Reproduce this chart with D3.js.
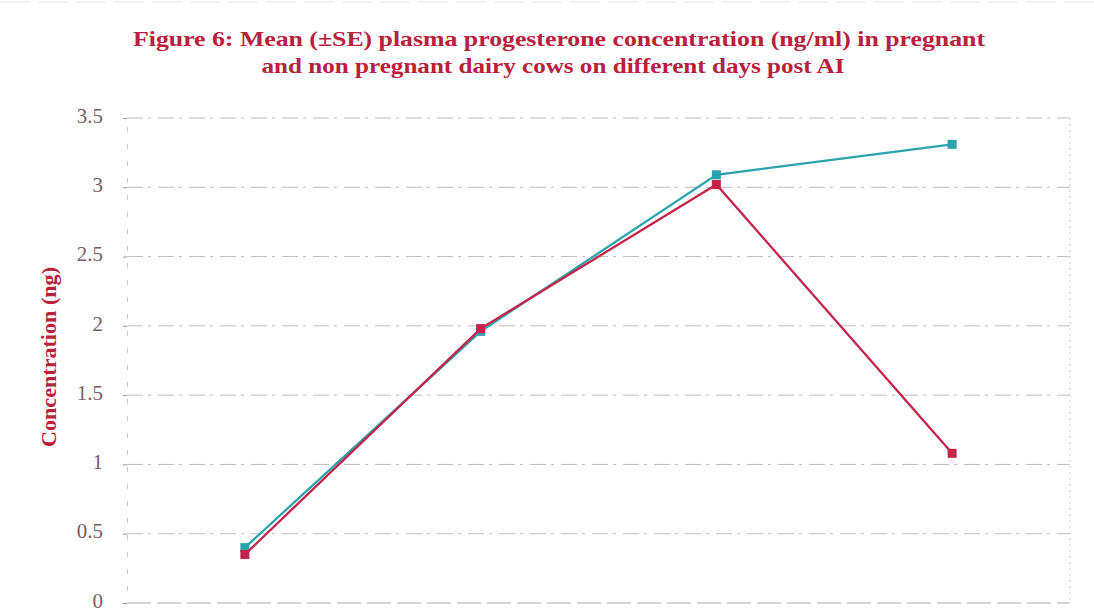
<!DOCTYPE html>
<html>
<head>
<meta charset="utf-8">
<script src="https://cdn.jsdelivr.net/npm/d3@7"></script>
<style>
  body { margin: 0; background: #fff; }
  svg { display: block; }
</style>
</head>
<body>
<svg id="chart" width="1094" height="613"></svg>
<script>
// + -- data ------------------------------------------------------------------ +
const days = ['D1', 'D2', 'D3', 'D4']
const pregnant = [0.40, 1.96, 3.09, 3.31]
const nonPregnant = [0.35, 1.98, 3.02, 1.08]
const yTicks = [0, 0.5, 1, 1.5, 2, 2.5, 3, 3.5]

const titleLines = [
  'Figure 6: Mean (\u00b1SE) plasma progesterone concentration (ng/ml) in pregnant',
  'and non pregnant dairy cows on different days post AI'
]
const titleWidths = [852, 583]

const RED = '#c4234a'
const TEAL = '#2ba3ad'

const svg = d3.select('#chart')
const plotL = 127, plotR = 1070, plotT = 118, plotB = 603

const x = d3.scalePoint().domain(days).range([plotL, plotR]).padding(0.5)
const y = d3.scaleLinear().domain([0, 3.5]).range([plotB, plotT])

// top rule of the scanned page
svg.append('line')
  .attr('x1', 0).attr('x2', 1094)
  .attr('y1', 2).attr('y2', 2)
  .attr('stroke', '#e4e4e4')
  .attr('stroke-dasharray', '30,8')

// title
svg.selectAll('text.title')
  .data(titleLines)
  .enter().append('text')
  .attr('class', 'title')
  .attr('x', (d, i) => i == 0 ? 559 : 553)
  .attr('y', (d, i) => 46 + i * 27)
  .attr('text-anchor', 'middle')
  .attr('font-family', 'Liberation Serif, serif')
  .attr('font-weight', 700)
  .attr('font-size', 22)
  .attr('fill', '#b8203c')
  .attr('textLength', (d, i) => titleWidths[i])
  .attr('lengthAdjust', 'spacingAndGlyphs')
  .text(d => d)

// gridlines
svg.append('g')
  .selectAll('line')
  .data(yTicks.filter(d => d > 0))
  .enter().append('line')
  .attr('x1', plotL).attr('x2', plotR)
  .attr('y1', d => y(d)).attr('y2', d => y(d))
  .attr('stroke', '#bdbdbd')
  .attr('stroke-width', 1)
  .attr('stroke-dasharray', '16,5,3,7')

// bottom line
svg.append('line')
  .attr('x1', plotL).attr('x2', plotR)
  .attr('y1', y(0)).attr('y2', y(0))
  .attr('stroke', '#aaa')
  .attr('stroke-dasharray', '24,6')

// y axis
let yAxis = svg.append('g')
  .attr('transform', 'translate(' + plotL + ',0)')
  .call(d3.axisLeft(y).tickValues(yTicks).tickSize(4).tickPadding(20).tickFormat(d3.format('')))
yAxis.select('.domain').attr('stroke', '#c8c8c8').attr('stroke-dasharray', '5,12')
yAxis.selectAll('.tick line').attr('stroke', '#999')
yAxis.selectAll('.tick text')
  .attr('font-family', 'Liberation Serif, serif')
  .attr('font-size', 21)
  .attr('dy', '0.2em')
  .attr('fill', '#7d5a62')

// right edge
svg.append('line')
  .attr('x1', plotR).attr('x2', plotR)
  .attr('y1', plotT).attr('y2', plotB)
  .attr('stroke', '#ccc')
  .attr('stroke-dasharray', '2,4')

// y label
svg.append('text')
  .attr('transform', 'translate(56,357) rotate(-90)')
  .attr('text-anchor', 'middle')
  .attr('font-family', 'Liberation Serif, serif')
  .attr('font-weight', 700)
  .attr('font-size', 22)
  .attr('fill', '#b8203c')
  .attr('textLength', 180)
  .attr('lengthAdjust', 'spacingAndGlyphs')
  .text('Concentration (ng)')

// series
const series = [
  {name: 'Pregnant', values: pregnant, color: TEAL},
  {name: 'Non pregnant', values: nonPregnant, color: RED}
]
const line = d3.line()
  .x((d, i) => x(days[i]))
  .y(d => y(d))

series.forEach(s => {
  let g = svg.append('g').attr('class', 'series')
  g.append('path')
    .datum(s.values)
    .attr('d', line)
    .attr('fill', 'none')
    .attr('stroke', s.color)
    .attr('stroke-width', 2.3)
  g.selectAll('rect')
    .data(s.values)
    .enter().append('rect')
    .attr('x', (d, i) => x(days[i]) - 4.5)
    .attr('y', d => y(d) - 4.5)
    .attr('width', 9)
    .attr('height', 9)
    .attr('fill', s.color)
})
</script>
</body>
</html>
